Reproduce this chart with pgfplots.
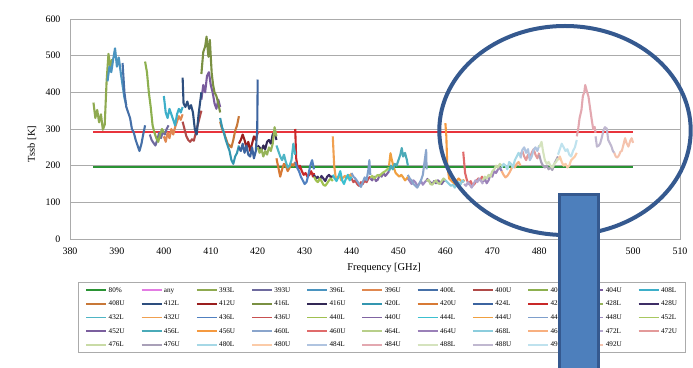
\documentclass[border=0pt]{standalone}
\usepackage{fontspec}
\setmainfont{Liberation Serif}
\usepackage{pgfplots}
\pgfplotsset{compat=1.18}
\definecolor{gridc}{HTML}{ABABAB}
\definecolor{c80}{HTML}{2A9334}
\definecolor{cany}{HTML}{E37CE3}
\definecolor{cred}{HTML}{E8343C}
\definecolor{c393L}{HTML}{8FAA50}
\definecolor{c393U}{HTML}{6E6A9E}
\definecolor{c396L}{HTML}{4A94C0}
\definecolor{c396U}{HTML}{E08850}
\definecolor{c400L}{HTML}{4670A8}
\definecolor{c400U}{HTML}{B04A48}
\definecolor{c404L}{HTML}{8DB04F}
\definecolor{c404U}{HTML}{7A5C9E}
\definecolor{c408L}{HTML}{3DAFC9}
\definecolor{c408U}{HTML}{C87838}
\definecolor{c412L}{HTML}{2D4E7E}
\definecolor{c412U}{HTML}{9A1E1E}
\definecolor{c416L}{HTML}{7A9042}
\definecolor{c416U}{HTML}{322855}
\definecolor{c420L}{HTML}{3496B0}
\definecolor{c420U}{HTML}{D87A35}
\definecolor{c424L}{HTML}{3C64A0}
\definecolor{c424U}{HTML}{C82828}
\definecolor{c428L}{HTML}{96B45A}
\definecolor{c428U}{HTML}{3E2E66}
\definecolor{c432L}{HTML}{4FB5C5}
\definecolor{c432U}{HTML}{F0A050}
\definecolor{c436L}{HTML}{5080C0}
\definecolor{c436U}{HTML}{C85050}
\definecolor{c440L}{HTML}{A0C050}
\definecolor{c440U}{HTML}{8064A2}
\definecolor{c444L}{HTML}{3CC0D0}
\definecolor{c444U}{HTML}{F0A040}
\definecolor{c448L}{HTML}{7E9FCC}
\definecolor{c448U}{HTML}{9E8AC0}
\definecolor{c452L}{HTML}{A8C860}
\definecolor{c452U}{HTML}{7B5F9E}
\definecolor{c456L}{HTML}{4AAAB8}
\definecolor{c456U}{HTML}{F59A40}
\definecolor{c460L}{HTML}{8AA5CC}
\definecolor{c460U}{HTML}{E06B6B}
\definecolor{c464L}{HTML}{B8CF8A}
\definecolor{c464U}{HTML}{9A80B8}
\definecolor{c468L}{HTML}{8CCDDD}
\definecolor{c468U}{HTML}{F8B080}
\definecolor{c472L}{HTML}{B4A6CC}
\definecolor{c472U}{HTML}{E39A9A}
\definecolor{c476L}{HTML}{C9DBA6}
\definecolor{c476U}{HTML}{A9A0B8}
\definecolor{c480L}{HTML}{A6D8E6}
\definecolor{c480U}{HTML}{FBCBA8}
\definecolor{c484L}{HTML}{B0C4E0}
\definecolor{c484U}{HTML}{E3A8B0}
\definecolor{c488L}{HTML}{D5E3BE}
\definecolor{c488U}{HTML}{C0B8D0}
\definecolor{c492L}{HTML}{BFE2EE}
\definecolor{c492U}{HTML}{F5C3AE}
\definecolor{ellc}{HTML}{35598F}
\definecolor{rectf}{HTML}{4D7FBC}
\definecolor{rectd}{HTML}{35598F}
\begin{document}
\begin{tikzpicture}
\useasboundingbox (0,0) rectangle (693bp,368bp);
\begin{axis}[
  at={(70bp,129bp)}, anchor=south west,
  scale only axis, width=610bp, height=220bp,
  xmin=380, xmax=510, ymin=0, ymax=600,
  xtick={380,390,...,510}, ytick={0,100,...,600},
  major tick length=0pt,
  ymajorgrids, grid style={draw=gridc, line width=0.9bp},
  axis line style={draw=gridc, line width=0.9bp},
  tick label style={font=\fontsize{10}{12}\selectfont},
  /pgf/number format/assume math mode=true,
  xticklabel style={yshift=-5bp},
  yticklabel style={xshift=-6bp},
  xlabel={Frequency [GHz]}, ylabel={Tssb [K]},
  xlabel style={at={(axis description cs:0.515,-0.132)}, anchor=center, font=\fontsize{10.5}{12}\selectfont},
  ylabel style={at={(axis description cs:-0.0623,0.432)}, anchor=center, font=\fontsize{10.5}{12}\selectfont},
  legend columns=11,
  legend cell align=left,
  legend image code/.code={\draw[#1, line width=1.8bp] (0bp,0bp) -- (20bp,0bp);},
  legend style={at={(axis description cs:0.0131,-0.1955)}, anchor=north west, draw=gridc, line width=0.8bp,
    font=\fontsize{7.2}{8}\selectfont, inner xsep=7bp, inner ysep=3.3bp, row sep=4.6bp,
    nodes={inner sep=1.5bp, text height=5bp, text depth=1bp},
    /tikz/every odd column/.style={column sep=0bp},
    /tikz/every even column/.style={column sep=14.5bp}},
  every axis plot/.append style={line width=2.1bp, line join=round},
  no markers,
]
\addplot[c80] coordinates {(385,197) (500,197)}; \addlegendentry{80\%}
\addplot[cred, legend image post style={color=cany}] coordinates {(385,292) (500,292)}; \addlegendentry{any}
\addplot[c393L] coordinates {(385.0,372) (385.4,330) (385.8,352) (386.2,318) (386.6,340) (387.0,298) (387.4,312) (387.8,430) (388.2,505) (388.6,470) (389.0,490)}; \addlegendentry{393L}
\addplot[c393U] coordinates {(397.0,285) (397.4,270) (397.8,262) (398.2,255) (398.6,270) (399.0,290) (399.4,275) (399.8,295) (400.2,285) (400.6,300) (401.0,310)}; \addlegendentry{393U}
\addplot[c396L] coordinates {(388.0,430) (388.4,470) (388.8,455) (389.2,490) (389.6,520) (390.0,470) (390.4,495) (390.8,455) (391.2,420) (391.6,385) (392.0,365)}; \addlegendentry{396L}
\addplot[c396U] coordinates {(400.0,280) (400.4,265) (400.8,290) (401.2,275) (401.6,300) (402.0,285) (402.4,305) (402.8,320) (403.2,335) (403.6,325) (404.0,340)}; \addlegendentry{396U}
\addplot[c400L] coordinates {(391.2,480) (391.6,400) (392.0,360) (392.4,345) (392.8,330) (393.2,300) (393.6,290) (394.0,270) (394.4,255) (394.8,240) (395.2,258) (395.6,285) (396.0,310)}; \addlegendentry{400L}
\addplot[c400U] coordinates {(404.0,320) (404.4,300) (404.8,280) (405.2,270) (405.6,265) (406.0,272) (406.4,268) (406.8,290) (407.2,310) (407.6,330) (408.0,350)}; \addlegendentry{400U}
\addplot[c404L] coordinates {(396.0,484) (396.4,455) (396.8,400) (397.2,360) (397.6,310) (398.0,290) (398.4,275) (398.8,265) (399.2,285) (399.6,300) (400.0,290)}; \addlegendentry{404L}
\addplot[c404U] coordinates {(408.0,380) (408.4,420) (408.8,400) (409.2,445) (409.6,455) (410.0,420) (410.4,400) (410.8,370) (411.2,355) (411.6,380) (412.0,360)}; \addlegendentry{404U}
\addplot[c408L] coordinates {(400.0,390) (400.4,345) (400.8,330) (401.2,355) (401.6,340) (402.0,325) (402.4,310) (402.8,340) (403.2,355) (403.6,345) (404.0,360)}; \addlegendentry{408L}
\addplot[c408U] coordinates {(412.0,320) (412.4,300) (412.8,290) (413.2,275) (413.6,260) (414.0,255) (414.4,250) (414.8,270) (415.2,295) (415.6,310) (416.0,335)}; \addlegendentry{408U}
\addplot[c412L] coordinates {(404.0,440) (404.2,370) (404.6,360) (405.0,375) (405.4,355) (405.8,365) (406.2,345) (406.6,300) (407.0,285) (407.4,340) (407.8,380) (408.0,400)}; \addlegendentry{412L}
\addplot[c412U] coordinates {(416.0,260) (416.4,270) (416.8,285) (417.2,270) (417.6,250) (418.0,265) (418.4,240) (418.8,260) (419.2,280) (419.6,270) (420.0,290)}; \addlegendentry{412U}
\addplot[c416L] coordinates {(408.0,450) (408.4,510) (408.8,525) (409.1,552) (409.5,497) (409.8,543) (410.2,452) (410.5,420) (410.8,400) (411.2,390) (411.6,370) (412.0,345)}; \addlegendentry{416L}
\addplot[c416U] coordinates {(420.0,255) (420.4,250) (420.8,240) (421.2,255) (421.6,245) (422.0,265) (422.4,270) (422.8,260) (423.2,285) (423.6,290) (424.0,270)}; \addlegendentry{416U}
\addplot[c420L] coordinates {(412.0,330) (412.4,305) (412.8,290) (413.2,270) (413.6,255) (414.0,240) (414.4,215) (414.8,205) (415.2,225) (415.6,235) (416.0,255)}; \addlegendentry{420L}
\addplot[c420U] coordinates {(424.0,220) (424.4,195) (424.8,170) (425.2,190) (425.6,205) (426.0,200) (426.4,185) (426.8,195) (427.2,205) (427.6,200) (428.0,210)}; \addlegendentry{420U}
\addplot[c424L] coordinates {(416.0,250) (416.4,240) (416.8,260) (417.2,235) (417.6,255) (418.0,230) (418.4,225) (418.8,250) (419.2,220) (419.6,240) (419.9,300) (420.0,435)}; \addlegendentry{424L}
\addplot[c424U] coordinates {(428.0,300) (428.2,220) (428.6,190) (429.0,200) (429.4,185) (429.8,175) (430.2,180) (430.6,170) (431.0,175) (431.4,185) (431.8,170) (432.0,180)}; \addlegendentry{424U}
\addplot[c428L] coordinates {(420.0,250) (420.4,235) (420.8,245) (421.2,225) (421.6,240) (422.0,230) (422.4,250) (422.8,240) (423.2,260) (423.6,305) (424.0,280)}; \addlegendentry{428L}
\addplot[c428U] coordinates {(432.0,175) (432.4,165) (432.8,170) (433.2,160) (433.6,172) (434.0,165) (434.4,158) (434.8,170) (435.2,175) (435.6,168) (436.0,172)}; \addlegendentry{428U}
\addplot[c432L] coordinates {(424.0,255) (424.4,240) (424.8,225) (425.2,215) (425.6,230) (426.0,210) (426.4,195) (426.8,200) (427.2,215) (427.6,260) (428.0,230)}; \addlegendentry{432L}
\addplot[c432U] coordinates {(436.0,280) (436.3,200) (436.6,170) (437.0,165) (437.4,175) (437.8,160) (438.2,168) (438.6,172) (439.0,165) (439.4,175) (439.8,170) (440.0,180)}; \addlegendentry{432U}
\addplot[c436L] coordinates {(428.0,210) (428.4,195) (428.8,185) (429.2,170) (429.6,160) (430.0,150) (430.4,155) (430.8,175) (431.2,200) (431.6,215) (432.0,190)}; \addlegendentry{436L}
\addplot[c436U] coordinates {(440.0,165) (440.4,155) (440.8,160) (441.2,150) (441.6,145) (442.0,155) (442.4,150) (442.8,160) (443.2,155) (443.6,165) (444.0,170)}; \addlegendentry{436U}
\addplot[c440L] coordinates {(432.0,170) (432.4,160) (432.8,155) (433.2,165) (433.6,158) (434.0,148) (434.4,145) (434.8,152) (435.2,160) (435.6,165) (436.0,158)}; \addlegendentry{440L}
\addplot[c440U] coordinates {(444.0,165) (444.4,160) (444.8,170) (445.2,158) (445.6,162) (446.0,175) (446.4,170) (446.8,180) (447.2,172) (447.6,178) (448.0,185)}; \addlegendentry{440U}
\addplot[c444L] coordinates {(436.0,175) (436.4,165) (436.8,158) (437.2,170) (437.6,185) (438.0,160) (438.4,150) (438.8,165) (439.2,175) (439.6,160) (440.0,170)}; \addlegendentry{444L}
\addplot[c444U] coordinates {(448.0,200) (448.3,234) (448.6,215) (449.0,195) (449.4,180) (449.8,175) (450.2,170) (450.6,175) (451.0,168) (451.4,160) (451.8,165) (452.0,170)}; \addlegendentry{444U}
\addplot[c448L] coordinates {(440.0,180) (440.4,170) (440.8,165) (441.2,158) (441.6,150) (442.0,142) (442.4,155) (442.8,168) (443.2,160) (443.6,190) (443.8,215) (444.0,175)}; \addlegendentry{448L}
\addplot[c448U] coordinates {(452.0,165) (452.4,158) (452.8,150) (453.2,160) (453.6,155) (454.0,145) (454.4,150) (454.8,158) (455.2,148) (455.6,155) (456.0,160)}; \addlegendentry{448U}
\addplot[c452L] coordinates {(444.0,168) (444.4,172) (444.8,165) (445.2,170) (445.6,175) (446.0,172) (446.4,178) (446.8,182) (447.2,185) (447.6,190) (448.0,195)}; \addlegendentry{452L}
\addplot[c452U] coordinates {(456.0,165) (456.4,160) (456.8,155) (457.2,150) (457.6,158) (458.0,152) (458.4,160) (458.8,155) (459.2,150) (459.6,158) (460.0,160)}; \addlegendentry{452U}
\addplot[c456L] coordinates {(448.0,185) (448.4,200) (448.8,190) (449.2,205) (449.6,200) (450.0,215) (450.4,230) (450.7,248) (451.0,225) (451.4,235) (451.8,215) (452.0,200)}; \addlegendentry{456L}
\addplot[c456U] coordinates {(460.0,316) (460.2,280) (460.4,200) (460.8,165) (461.2,160) (461.6,155) (462.0,150) (462.4,158) (462.8,165) (463.2,160) (463.6,155) (464.0,162)}; \addlegendentry{456U}
\addplot[c460L] coordinates {(452.0,175) (452.4,165) (452.8,160) (453.2,150) (453.6,145) (454.0,140) (454.4,150) (454.8,160) (455.2,175) (455.6,215) (455.9,243) (456.0,190)}; \addlegendentry{460L}
\addplot[c460U] coordinates {(463.8,238) (464.2,180) (464.6,160) (465.0,150) (465.4,158) (465.8,145) (466.2,150) (466.6,158) (467.0,165) (467.4,160) (467.8,170) (468.0,165)}; \addlegendentry{460U}
\addplot[c464L] coordinates {(456.0,158) (456.4,162) (456.8,150) (457.2,148) (457.6,155) (458.0,160) (458.4,152) (458.8,150) (459.2,158) (459.6,165) (460.0,160)}; \addlegendentry{464L}
\addplot[c464U] coordinates {(468.0,155) (468.4,165) (468.8,152) (469.2,160) (469.6,175) (470.0,170) (470.4,185) (470.8,180) (471.2,190) (471.6,195) (472.0,185)}; \addlegendentry{464U}
\addplot[c468L] coordinates {(460.0,160) (460.4,155) (460.8,150) (461.2,145) (461.6,148) (462.0,140) (462.4,150) (462.8,155) (463.2,148) (463.6,160) (464.0,155)}; \addlegendentry{468L}
\addplot[c468U] coordinates {(472.0,185) (472.4,175) (472.8,168) (473.2,172) (473.6,180) (474.0,190) (474.4,200) (474.8,195) (475.2,205) (475.6,210) (476.0,200)}; \addlegendentry{468U}
\addplot[c472L] coordinates {(464.0,150) (464.4,145) (464.8,155) (465.2,148) (465.6,140) (466.0,150) (466.4,160) (466.8,155) (467.2,165) (467.6,158) (468.0,150)}; \addlegendentry{472L}
\addplot[c472U] coordinates {(476.0,230) (476.4,240) (476.8,225) (477.2,215) (477.6,230) (478.0,220) (478.4,235) (478.8,245) (479.2,230) (479.6,220) (480.0,235)}; \addlegendentry{472U}
\addplot[c476L] coordinates {(468.0,160) (468.4,170) (468.8,165) (469.2,175) (469.6,170) (470.0,185) (470.4,190) (470.8,200) (471.2,195) (471.6,205) (472.0,200)}; \addlegendentry{476L}
\addplot[c476U] coordinates {(480.0,230) (480.4,210) (480.8,200) (481.2,195) (481.6,200) (482.0,190) (482.4,195) (482.8,188) (483.2,205) (483.6,215) (484.0,225)}; \addlegendentry{476U}
\addplot[c480L] coordinates {(472.0,195) (472.4,205) (472.8,200) (473.2,190) (473.6,210) (474.0,205) (474.4,195) (474.8,215) (475.2,225) (475.6,235) (476.0,225)}; \addlegendentry{480L}
\addplot[c480U] coordinates {(484.0,215) (484.4,225) (484.8,210) (485.2,200) (485.6,205) (486.0,195) (486.4,200) (486.8,215) (487.2,220) (487.6,225) (488.0,235)}; \addlegendentry{480U}
\addplot[c484L] coordinates {(476.0,220) (476.4,243) (476.8,250) (477.2,235) (477.6,245) (478.0,215) (478.4,225) (478.8,243) (479.2,250) (479.6,240) (480.0,255)}; \addlegendentry{484L}
\addplot[c484U] coordinates {(488.0,280) (488.3,300) (488.6,330) (489.0,352) (489.3,390) (489.6,400) (489.8,420) (490.1,405) (490.5,388) (490.8,360) (491.2,324) (491.5,300) (491.8,306) (492.0,290)}; \addlegendentry{484U}
\addplot[c488L] coordinates {(480.0,250) (480.5,265) (480.8,240) (481.2,215) (481.6,205) (482.0,210) (482.4,200) (482.8,195) (483.2,205) (483.6,210) (484.0,220)}; \addlegendentry{488L}
\addplot[c488U] coordinates {(492.0,280) (492.3,252) (492.7,255) (493.0,261) (493.4,280) (493.7,297) (494.0,305) (494.4,301) (494.7,270) (495.1,260) (495.4,252) (495.7,240) (496.0,235)}; \addlegendentry{488U}
\addplot[c492L] coordinates {(484.0,230) (484.4,245) (484.8,260) (485.2,250) (485.6,240) (486.0,245) (486.4,230) (486.8,225) (487.2,240) (487.6,250) (488.0,270)}; \addlegendentry{492L}
\addplot[c492U] coordinates {(496.0,235) (496.3,225) (496.6,222) (497.0,228) (497.3,238) (497.6,240) (498.0,260) (498.3,275) (498.6,262) (499.0,252) (499.4,268) (499.7,275) (500.0,262)}; \addlegendentry{492U}
\node[font=\fontsize{10.5}{12}\selectfont] at (axis description cs:0.935,1.026) {2015/3/13};
\end{axis}
\draw[draw=ellc, line width=4bp] (565bp,237.5bp) ellipse [x radius=125.7bp, y radius=104.5bp];
\filldraw[fill=rectf, draw=rectd, line width=3bp] (559.5bp,-10bp) rectangle (598.5bp,173.5bp);
\end{tikzpicture}
\end{document}
